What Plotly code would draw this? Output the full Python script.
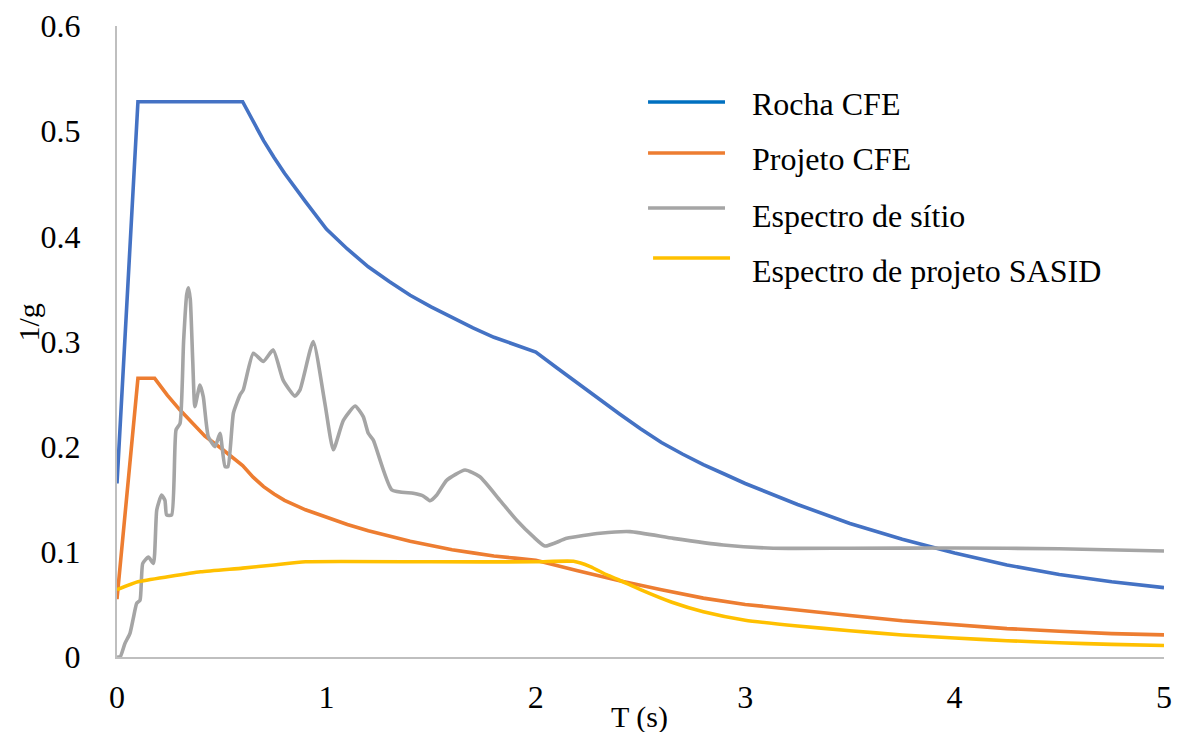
import plotly.graph_objects as go

# Response spectra: period T (s) vs spectral acceleration (1/g)
t_rocha = [0, 0.1, 0.6, 0.65, 0.7, 0.75, 0.8, 0.9, 1.0, 1.1, 1.2, 1.3, 1.4, 1.5, 1.6, 1.7,
           1.8, 1.9, 2.0, 2.1, 2.2, 2.3, 2.4, 2.5, 2.6, 2.7, 2.8, 2.9, 3.0, 3.25, 3.5,
           3.75, 4.0, 4.25, 4.5, 4.75, 5.0]
v_rocha = [0.165, 0.528, 0.528, 0.509, 0.491, 0.475, 0.460, 0.433, 0.407, 0.388, 0.371,
           0.357, 0.344, 0.333, 0.323, 0.313, 0.304, 0.297, 0.290, 0.275, 0.260, 0.245,
           0.231, 0.217, 0.204, 0.193, 0.183, 0.174, 0.165, 0.145, 0.127, 0.112, 0.099,
           0.0875, 0.0785, 0.0715, 0.066]

t_projeto = [0, 0.1, 0.18, 0.24, 0.3, 0.42, 0.5, 0.6, 0.65, 0.7, 0.75, 0.8, 0.9, 1.0, 1.1,
             1.2, 1.3, 1.4, 1.5, 1.6, 1.7, 1.8, 1.9, 2.0, 2.2, 2.4, 2.6, 2.8, 3.0, 3.25,
             3.5, 3.75, 4.0, 4.25, 4.5, 4.75, 5.0]
v_projeto = [0.055, 0.265, 0.265, 0.249, 0.235, 0.210, 0.198, 0.182, 0.171, 0.162, 0.155,
             0.149, 0.140, 0.133, 0.126, 0.120, 0.115, 0.110, 0.106, 0.102, 0.099, 0.096,
             0.094, 0.092, 0.082, 0.0725, 0.064, 0.056, 0.050, 0.0445, 0.0395, 0.0345,
             0.0305, 0.027, 0.0245, 0.0222, 0.021]

t_sitio = [0, 0.015, 0.038, 0.062, 0.078, 0.094, 0.11, 0.123, 0.15, 0.174, 0.19, 0.213,
           0.229, 0.237, 0.261, 0.282, 0.301, 0.318, 0.333, 0.341, 0.35, 0.362, 0.372,
           0.396, 0.412, 0.436, 0.468, 0.492, 0.516, 0.53, 0.556, 0.587, 0.603, 0.651,
           0.699, 0.746, 0.794, 0.85, 0.874, 0.937, 0.993, 1.033, 1.081, 1.137, 1.176,
           1.2, 1.224, 1.312, 1.415, 1.463, 1.495, 1.527, 1.574, 1.662, 1.733, 1.829,
           1.909, 1.988, 2.044, 2.148, 2.307, 2.45, 2.657, 2.895, 3.134, 3.5, 4.0, 4.5, 5.0]
v_sitio = [0, 0, 0.013, 0.0225, 0.037, 0.051, 0.054, 0.089, 0.095, 0.089, 0.140, 0.154,
           0.149, 0.135, 0.135, 0.216, 0.222, 0.300, 0.345, 0.351, 0.340, 0.280, 0.238,
           0.2586, 0.2475, 0.2095, 0.200, 0.2127, 0.181, 0.181, 0.232, 0.249, 0.254, 0.2888,
           0.281, 0.292, 0.263, 0.248, 0.254, 0.300, 0.241, 0.197, 0.225, 0.2387, 0.2285,
           0.2127, 0.2063, 0.159, 0.1556, 0.153, 0.1486, 0.154, 0.168, 0.1778, 0.1714, 0.149,
           0.130, 0.1144, 0.1055, 0.1128, 0.1176, 0.1192, 0.1128, 0.1065, 0.1034, 0.1034,
           0.1036, 0.1030, 0.1008]

t_sasid = [0, 0.1, 0.25, 0.4, 0.6, 0.75, 0.9, 1.5, 2.0, 2.18, 2.26, 2.34, 2.4, 2.5, 2.65,
           2.8, 3.0, 3.25, 3.5, 3.75, 4.0, 4.25, 4.5, 4.75, 5.0]
v_sasid = [0.064, 0.0715, 0.0765, 0.081, 0.0845, 0.0875, 0.0905, 0.0905, 0.0905, 0.091,
           0.086, 0.078, 0.073, 0.064, 0.052, 0.043, 0.035, 0.0295, 0.025, 0.021, 0.018,
           0.0155, 0.0135, 0.012, 0.011]

series_names = ["Rocha CFE", "Projeto CFE", "Espectro de sítio", "Espectro de projeto SASID"]
series_colors = ["#4472C4", "#ED7D31", "#A5A5A5", "#FFC000"]
legend_line_colors = ["#0070C0", "#ED7D31", "#A5A5A5", "#FFC000"]

x_ticks = [0, 1, 2, 3, 4, 5]
y_ticks = [0, 0.1, 0.2, 0.3, 0.4, 0.5, 0.6]

FONT = "Liberation Serif, Times New Roman, serif"
FS = 32

fig = go.Figure()
data = [(t_rocha, v_rocha, "linear"), (t_projeto, v_projeto, "linear"),
        (t_sitio, v_sitio, "spline"), (t_sasid, v_sasid, "spline")]
for (tx, vy, shape), name, color in zip(data, series_names, series_colors):
    line = dict(color=color, width=3.6, shape=shape)
    if shape == "spline":
        line["smoothing"] = 0.5
    fig.add_trace(go.Scatter(x=tx, y=vy, mode="lines", name=name, line=line,
                             showlegend=False))

# Legend drawn in paper coordinates: sample line + label per series
leg_y = [0.8796, 0.7987, 0.7116, 0.6323]
leg_text_y = [0.876, 0.789, 0.699, 0.612]
shapes = []
annotations = []
for i, (name, color) in enumerate(zip(series_names, legend_line_colors)):
    x0 = 0.5072 if i < 3 else 0.512
    shapes.append(dict(type="line", xref="paper", yref="paper", x0=x0, x1=x0 + 0.0735,
                       y0=leg_y[i], y1=leg_y[i], line=dict(color=color, width=3.5)))
    annotations.append(dict(text=name, xref="paper", yref="paper", x=0.605, y=leg_text_y[i],
                            xanchor="left", yanchor="middle", showarrow=False,
                            font=dict(family=FONT, size=FS, color="#000000")))

annotations.append(dict(text="T (s)", xref="paper", yref="paper", x=0.499, y=-0.095,
                        xanchor="center", yanchor="middle", showarrow=False,
                        font=dict(family=FONT, size=FS - 2, color="#000000")))
annotations.append(dict(text="1/g", xref="paper", yref="paper", x=-0.084, y=0.53,
                        xanchor="center", yanchor="middle", showarrow=False, textangle=-90,
                        font=dict(family=FONT, size=FS - 2, color="#000000")))

fig.update_layout(
    width=1179, height=732,
    margin=dict(l=117, r=15, t=26, b=75, autoexpand=False),
    paper_bgcolor="white", plot_bgcolor="white",
    font=dict(family=FONT, size=FS, color="#000000"),
    shapes=shapes, annotations=annotations,
    showlegend=False,
)
fig.update_xaxes(range=[0, 5], tickvals=x_ticks, ticktext=[str(v) for v in x_ticks],
                 showgrid=False, zeroline=False, showline=True, linecolor="#BFBFBF",
                 linewidth=2, ticks="", ticklabelstandoff=11, automargin=False,
                 tickfont=dict(family=FONT, size=FS, color="#000000"))
fig.update_yaxes(range=[0, 0.6], tickvals=y_ticks, ticktext=[f"{v:g}" for v in y_ticks],
                 showgrid=False, zeroline=False, showline=True, linecolor="#BFBFBF",
                 linewidth=2, ticks="", ticklabelstandoff=28, automargin=False,
                 tickfont=dict(family=FONT, size=FS, color="#000000"))

fig.write_html("out.html")
